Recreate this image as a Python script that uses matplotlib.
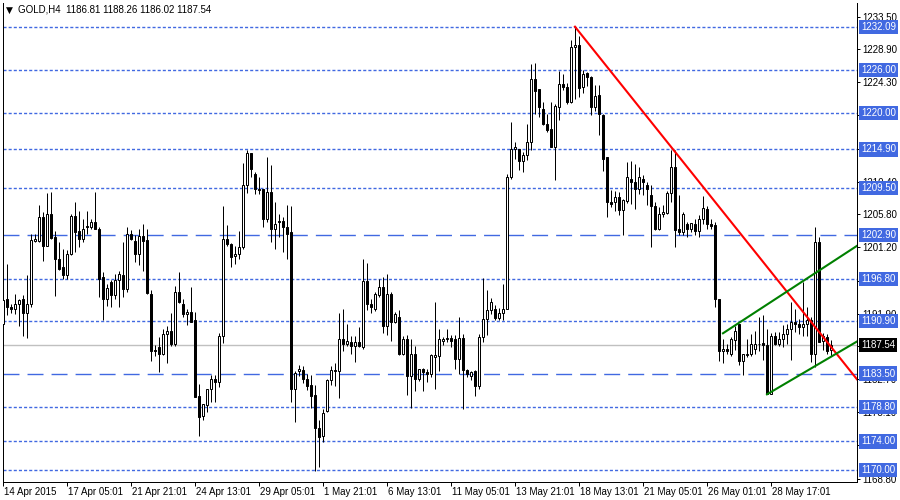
import numpy as np
import matplotlib
matplotlib.use('Agg')
import matplotlib.pyplot as plt
import matplotlib.transforms as mtransforms

plt.rcParams['font.family'] = ['Liberation Sans', 'DejaVu Sans']

#%% GOLD H4 candles (one row = 10 bars)

opens = [
    1190.5, 1193.9, 1192.8, 1192.6, 1193.3, 1193.9, 1192.0, 1193.3, 1202.1, 1202.1,
    1205.4, 1201.4, 1205.8, 1202.7, 1199.6, 1198.5, 1197.3, 1200.3, 1205.6, 1203.5,
    1202.4, 1204.2, 1204.0, 1204.7, 1203.8, 1197.0, 1193.9, 1196.4, 1194.5, 1196.6,
    1197.3, 1195.4, 1203.1, 1202.1, 1200.2, 1202.8, 1202.2, 1194.7, 1186.8, 1187.2,
    1186.2, 1189.1, 1189.4, 1187.6, 1195.0, 1193.2, 1191.8, 1192.1, 1191.0, 1180.3,
    1177.6, 1179.1, 1181.3, 1182.8, 1182.3, 1188.7, 1202.4, 1201.7, 1200.0, 1200.3,
    1201.2, 1209.9, 1214.4, 1211.4, 1209.4, 1209.3, 1205.1, 1208.9, 1203.8, 1204.9,
    1204.9, 1204.0, 1203.3, 1181.4, 1183.8, 1184.0, 1182.8, 1181.9, 1180.5, 1175.9,
    1174.8, 1178.2, 1182.6, 1184.0, 1183.8, 1188.3, 1187.6, 1187.9, 1187.4, 1187.9,
    1187.2, 1196.5, 1193.3, 1192.5, 1194.5, 1195.7, 1190.1, 1194.7, 1190.8, 1191.4,
    1186.3, 1188.3, 1183.1, 1186.2, 1182.8, 1184.1, 1183.7, 1183.4, 1185.8, 1185.9,
    1188.1, 1188.3, 1188.5, 1188.3, 1185.6, 1188.5, 1184.0, 1183.1, 1183.8, 1181.7,
    1188.6, 1191.2, 1192.4, 1192.6, 1191.3, 1192.0, 1192.6, 1211.1, 1215.0, 1215.0,
    1213.3, 1214.1, 1216.0, 1224.8, 1223.3, 1220.6, 1218.5, 1217.8, 1215.3, 1220.9,
    1224.1, 1223.7, 1221.6, 1229.2, 1229.5, 1223.7, 1225.6, 1225.0, 1220.8, 1222.5,
    1219.7, 1213.9, 1207.6, 1207.5, 1208.2, 1206.4, 1207.7, 1210.8, 1210.4, 1209.4,
    1210.8, 1209.9, 1208.5, 1207.0, 1203.7, 1205.9, 1206.0, 1208.8, 1212.4, 1203.7,
    1203.4, 1204.4, 1203.7, 1204.5, 1203.5, 1205.1, 1206.5, 1204.5, 1204.3, 1194.0,
    1186.6, 1186.9, 1186.3, 1188.2, 1190.4, 1185.3, 1186.1, 1186.3, 1187.0, 1187.7,
    1187.8, 1187.5, 1180.7, 1188.7, 1187.6, 1188.4, 1189.1, 1189.8, 1190.7, 1190.4,
    1190.0, 1190.4, 1191.0, 1186.2, 1201.9, 1188.0, 1188.6, 1186.81]

highs = [
    1197.8, 1198.8, 1193.2, 1194.6, 1193.9, 1194.5, 1197.3, 1203.0, 1203.1, 1207.1,
    1206.2, 1208.8, 1209.0, 1203.5, 1202.0, 1201.0, 1200.8, 1205.8, 1207.6, 1206.3,
    1205.1, 1206.3, 1205.1, 1209.0, 1204.0, 1197.8, 1196.1, 1196.6, 1197.4, 1197.9,
    1202.0, 1204.0, 1203.6, 1202.9, 1203.8, 1204.5, 1203.8, 1195.2, 1187.5, 1188.6,
    1189.7, 1190.1, 1192.0, 1195.8, 1197.8, 1193.9, 1192.6, 1195.7, 1192.2, 1182.0,
    1179.3, 1181.4, 1183.3, 1183.3, 1189.2, 1207.0, 1204.3, 1201.8, 1201.4, 1203.5,
    1213.0, 1214.8, 1214.4, 1211.8, 1211.0, 1209.4, 1213.8, 1212.7, 1207.6, 1205.8,
    1205.4, 1207.1, 1207.0, 1183.8, 1184.7, 1184.6, 1183.4, 1183.3, 1181.9, 1177.0,
    1178.5, 1182.8, 1184.5, 1185.0, 1192.0, 1192.5, 1190.4, 1188.7, 1188.7, 1190.0,
    1199.6, 1199.0, 1193.9, 1195.0, 1196.7, 1197.1, 1197.4, 1195.0, 1192.2, 1192.4,
    1188.7, 1188.9, 1188.3, 1187.3, 1184.1, 1184.3, 1184.1, 1186.3, 1193.5, 1189.7,
    1188.6, 1189.8, 1188.9, 1188.9, 1191.5, 1189.1, 1184.1, 1183.9, 1184.0, 1189.1,
    1196.9, 1195.2, 1194.1, 1193.1, 1192.7, 1196.0, 1211.5, 1218.8, 1216.0, 1215.0,
    1214.6, 1218.5, 1226.9, 1227.0, 1223.4, 1221.6, 1219.9, 1221.5, 1221.3, 1225.9,
    1225.4, 1224.2, 1230.2, 1232.09, 1230.8, 1226.0, 1225.8, 1225.2, 1223.9, 1223.9,
    1219.8, 1213.9, 1209.2, 1209.1, 1209.0, 1208.0, 1213.2, 1213.3, 1212.9, 1212.5,
    1211.3, 1210.4, 1209.9, 1207.6, 1206.9, 1207.1, 1209.1, 1214.8, 1214.8, 1208.5,
    1206.2, 1204.8, 1204.6, 1205.1, 1205.7, 1208.4, 1207.0, 1205.1, 1204.8, 1194.0,
    1188.4, 1187.7, 1188.6, 1190.1, 1190.5, 1186.3, 1188.4, 1189.1, 1189.5, 1191.5,
    1191.7, 1189.7, 1189.2, 1189.3, 1189.3, 1190.3, 1190.5, 1193.6, 1192.6, 1191.1,
    1196.4, 1192.9, 1191.5, 1204.0, 1202.7, 1189.2, 1189.1, 1188.26]

lows = [
    1183.5, 1191.7, 1192.0, 1191.9, 1190.2, 1188.7, 1188.5, 1192.9, 1202.0, 1202.0,
    1199.3, 1201.4, 1202.4, 1194.4, 1198.0, 1196.8, 1196.8, 1200.1, 1200.6, 1201.3,
    1202.0, 1203.1, 1203.8, 1203.8, 1194.2, 1191.0, 1193.0, 1192.9, 1194.0, 1192.9,
    1194.3, 1195.0, 1202.2, 1199.2, 1198.7, 1197.9, 1194.7, 1185.3, 1185.9, 1183.7,
    1186.1, 1185.0, 1187.3, 1187.3, 1193.4, 1191.5, 1190.3, 1190.8, 1180.2, 1174.8,
    1177.0, 1178.1, 1179.5, 1179.5, 1181.6, 1187.8, 1201.4, 1198.5, 1198.9, 1199.5,
    1201.0, 1208.8, 1211.1, 1208.6, 1208.7, 1204.1, 1204.8, 1202.0, 1201.0, 1202.7,
    1200.6, 1199.6, 1179.5, 1176.7, 1183.1, 1182.2, 1181.2, 1178.7, 1169.9, 1170.4,
    1173.9, 1178.1, 1181.9, 1181.7, 1180.1, 1186.7, 1187.3, 1186.2, 1185.1, 1187.2,
    1187.0, 1192.4, 1192.0, 1192.3, 1194.2, 1189.2, 1188.9, 1188.1, 1190.6, 1186.1,
    1186.1, 1180.5, 1178.7, 1181.1, 1182.5, 1181.1, 1182.3, 1183.0, 1181.4, 1183.9,
    1187.5, 1187.9, 1187.2, 1184.1, 1183.5, 1178.6, 1183.0, 1182.6, 1180.3, 1181.4,
    1187.9, 1188.9, 1191.9, 1191.0, 1191.0, 1191.0, 1192.5, 1210.8, 1213.6, 1212.0,
    1211.8, 1213.4, 1214.8, 1219.9, 1219.4, 1218.3, 1217.4, 1215.3, 1210.6, 1219.0,
    1223.2, 1221.3, 1221.4, 1222.0, 1222.3, 1222.8, 1223.8, 1219.7, 1220.3, 1216.9,
    1211.9, 1205.4, 1206.8, 1206.3, 1205.7, 1202.9, 1207.4, 1207.2, 1206.6, 1208.7,
    1208.5, 1207.1, 1201.2, 1203.6, 1203.6, 1205.4, 1205.8, 1207.6, 1201.2, 1202.9,
    1202.9, 1202.7, 1203.4, 1202.9, 1202.7, 1204.5, 1203.8, 1203.7, 1192.9, 1185.3,
    1185.0, 1186.3, 1185.9, 1186.8, 1184.7, 1183.3, 1185.8, 1185.9, 1186.3, 1186.7,
    1185.4, 1180.7, 1180.6, 1187.5, 1187.3, 1187.2, 1187.7, 1185.4, 1189.3, 1189.1,
    1188.7, 1188.7, 1185.1, 1184.4, 1187.9, 1186.8, 1186.3, 1186.02]

closes = [
    1193.8, 1192.9, 1192.5, 1193.3, 1193.8, 1192.0, 1193.3, 1202.2, 1202.3, 1205.4,
    1201.4, 1205.8, 1202.5, 1199.6, 1198.2, 1197.3, 1200.3, 1205.6, 1203.4, 1202.4,
    1203.8, 1204.0, 1204.7, 1203.8, 1196.8, 1193.9, 1195.5, 1194.5, 1196.6, 1197.4,
    1195.4, 1203.1, 1202.3, 1200.2, 1202.8, 1202.1, 1194.8, 1186.7, 1186.7, 1186.2,
    1189.1, 1189.4, 1187.6, 1195.0, 1193.6, 1191.8, 1192.1, 1190.8, 1180.2, 1177.4,
    1179.2, 1181.3, 1182.8, 1182.3, 1188.7, 1202.3, 1201.6, 1199.9, 1200.3, 1201.2,
    1209.9, 1214.4, 1212.1, 1209.3, 1209.2, 1205.1, 1208.9, 1203.8, 1204.4, 1204.7,
    1204.0, 1203.1, 1181.3, 1183.6, 1184.1, 1182.8, 1181.7, 1180.4, 1175.9, 1174.6,
    1178.0, 1182.6, 1184.0, 1183.8, 1188.3, 1187.6, 1188.0, 1187.3, 1187.9, 1187.3,
    1196.5, 1193.3, 1192.8, 1194.6, 1195.7, 1190.1, 1194.7, 1190.7, 1191.9, 1186.3,
    1188.3, 1183.1, 1186.2, 1182.8, 1184.1, 1183.7, 1183.4, 1186.1, 1186.1, 1188.3,
    1188.4, 1188.5, 1188.1, 1185.6, 1188.5, 1184.0, 1183.5, 1183.7, 1181.7, 1188.6,
    1191.2, 1192.4, 1193.5, 1191.3, 1192.0, 1192.5, 1211.0, 1215.0, 1215.3, 1213.3,
    1214.1, 1216.0, 1224.8, 1223.1, 1220.8, 1218.5, 1217.6, 1215.3, 1221.0, 1224.1,
    1223.7, 1221.6, 1229.2, 1229.5, 1223.5, 1225.5, 1225.1, 1220.8, 1222.4, 1219.8,
    1213.6, 1207.5, 1207.2, 1208.2, 1206.4, 1207.8, 1211.0, 1210.4, 1209.3, 1211.1,
    1210.3, 1209.3, 1207.0, 1203.7, 1205.9, 1206.2, 1208.8, 1212.4, 1203.6, 1203.4,
    1205.9, 1203.7, 1204.6, 1203.5, 1205.1, 1206.7, 1204.5, 1204.2, 1194.0, 1186.6,
    1187.0, 1186.7, 1188.3, 1189.4, 1185.3, 1186.2, 1186.3, 1187.6, 1187.7, 1187.6,
    1187.5, 1180.7, 1188.7, 1187.7, 1188.4, 1189.1, 1189.8, 1190.7, 1190.4, 1190.0,
    1190.4, 1191.0, 1186.3, 1201.9, 1187.9, 1188.7, 1186.7, 1187.54]

dotted_levels = [1232.09, 1226.00, 1220.00, 1214.90, 1209.50,
                 1196.80, 1190.90, 1178.80, 1174.00, 1170.00]
dashed_levels = [1202.90, 1183.50]
last_price = 1187.54

price_ticks = [1168.80, 1173.50, 1178.10, 1182.70, 1187.30, 1191.90, 1196.50,
               1201.20, 1205.80, 1210.40, 1215.00, 1219.70, 1224.30, 1228.90, 1233.50]
# these tick labels sit fully under a level box in the screenshot
hidden_ticks = [1187.30, 1196.50, 1215.00, 1219.70]

date_ticks = [0, 16, 32, 48, 64, 80, 96, 112, 128, 144, 160, 176, 192]
date_labels = ['14 Apr 2015', '17 Apr 05:01', '21 Apr 21:01', '24 Apr 13:01',
               '29 Apr 05:01', '1 May 21:01', '6 May 13:01', '11 May 05:01',
               '13 May 21:01', '18 May 13:01', '21 May 05:01', '26 May 01:01',
               '28 May 17:01']

# trend lines: (bar index, price) end points
red_x, red_y = [143, 213.5], [1232.09, 1182.7]
green_up_x, green_up_y = [180, 213.5], [1189.15, 1201.4]
green_lo_x, green_lo_y = [191, 213.5], [1180.6, 1188.0]

title = 'GOLD,H4  1186.81 1188.26 1186.02 1187.54'

#%% Plot

blue = '#4169e1'
px = 0.72  # one pixel in points at dpi 100

fig = plt.figure(figsize=(9, 5), dpi=100)
ax = fig.add_axes([2.7 / 900, 18 / 500, (857 - 2.7) / 900, (482 - 3) / 500])

o = np.array(opens)
h = np.array(highs)
l = np.array(lows)
c = np.array(closes)
x = np.arange(len(o))

for lev in dotted_levels:
    ax.axhline(lev, color=blue, lw=1.0, dashes=(2.2, 1.5), zorder=1)
for lev in dashed_levels:
    ax.axhline(lev, color=blue, lw=1.0, dashes=(11.5, 5.8), zorder=1)
ax.axhline(last_price, color='#c0c0c0', lw=1.0, zorder=1)

ax.vlines(x, l, h, color='black', lw=px, zorder=3)
bottoms = np.minimum(o, c)
heights = np.maximum(np.abs(c - o), 0.02)
body_colours = ['white' if cc >= oo else 'black' for oo, cc in zip(o, c)]
ax.bar(x, heights, width=0.5, bottom=bottoms, color=body_colours,
       edgecolor='black', linewidth=px, zorder=4)

ax.plot(red_x, red_y, color='red', lw=1.5, zorder=5)
ax.plot(green_up_x, green_up_y, color='green', lw=1.5, zorder=5)
ax.plot(green_lo_x, green_lo_y, color='green', lw=1.5, zorder=5)

ax.set_xlim(-0.05, 213.5)
ax.set_ylim(1168.32, 1235.41)

ax.yaxis.tick_right()
ax.set_yticks(price_ticks)
ax.set_yticklabels(['' if t in hidden_ticks else '%.2f' % t for t in price_ticks])
ax.tick_params(axis='y', direction='out', length=3 * px, width=px,
               labelsize=7, pad=2)
ax.set_xticks(date_ticks)
ax.set_xticklabels(date_labels, ha='left')
ax.tick_params(axis='x', direction='out', length=4 * px, width=px,
               labelsize=7, pad=1)
offset = mtransforms.ScaledTranslation(1 / 100, 0, fig.dpi_scale_trans)
for lab in ax.get_xticklabels():
    lab.set_transform(lab.get_transform() + offset)

ax.spines['top'].set_visible(False)
for s in ['left', 'right', 'bottom']:
    ax.spines[s].set_linewidth(px)
    ax.spines[s].set_color('black')

trans = mtransforms.blended_transform_factory(ax.transAxes, ax.transData)
trans = trans + mtransforms.ScaledTranslation(4 / 100, 0, fig.dpi_scale_trans)
for lev in dotted_levels + dashed_levels:
    ax.text(1.0, lev, '%.2f' % lev, transform=trans, ha='left', va='center',
            color='white', fontsize=7, clip_on=False, zorder=10,
            bbox=dict(boxstyle='square,pad=0.22', fc=blue, ec='none'))
ax.text(1.0, last_price, '%.2f' % last_price, transform=trans, ha='left',
        va='center', color='white', fontsize=7, clip_on=False, zorder=10,
        bbox=dict(boxstyle='square,pad=0.22', fc='black', ec='none'))

fig.text(6 / 900, 1 - 10 / 500, '\u25bc', fontsize=6.5, va='center', ha='left',
         family='DejaVu Sans')
fig.text(18 / 900, 1 - 10 / 500, title, fontsize=7, va='center', ha='left')

fig.savefig('out.png', dpi=100)
